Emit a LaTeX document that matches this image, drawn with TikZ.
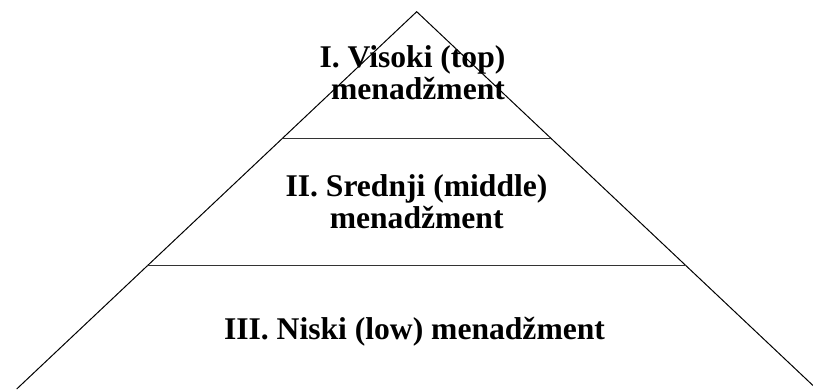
\documentclass[tikz,border=0pt]{standalone}
\usepackage{fontspec}
\setmainfont{Liberation Serif}
\begin{document}
\begin{tikzpicture}[x=1pt,y=-1pt,
  leg/.style={draw=black,line width=1pt},
  tier/.style={draw=black!80,line width=1.3pt},
  lbl/.style={inner sep=0pt,anchor=base,font=\bfseries\fontsize{31.6}{32}\selectfont}]
\useasboundingbox (0,0) rectangle (813,389);
\clip (0,0) rectangle (813,389);
% pyramid corners
\coordinate (apex) at (416.7,11.7);
\coordinate (bl) at (16.7,389);
\coordinate (br) at (816.7,389);
\coordinate (t1l) at (282.5,138.3);
\coordinate (t1r) at (550.9,138.3);
\coordinate (t2l) at (147.4,265.7);
\coordinate (t2r) at (686.0,265.7);
\draw[leg] (bl) -- (apex) -- (br);
\draw[tier] (t1l) -- (t1r);
\draw[tier] (t2l) -- (t2r);
% labels
\node[lbl] (top1) at (412.5,67.3) {I. Visoki (top)};
\node[lbl] (top2) at (418,99.3) {menadžment};
\node[lbl] (mid1) at (416.5,196) {II. Srednji (middle)};
\node[lbl] (mid2) at (416.7,228.3) {menadžment};
\node[lbl] (low) at (414.5,339.3) {III. Niski (low) menadžment};
\end{tikzpicture}
\end{document}
